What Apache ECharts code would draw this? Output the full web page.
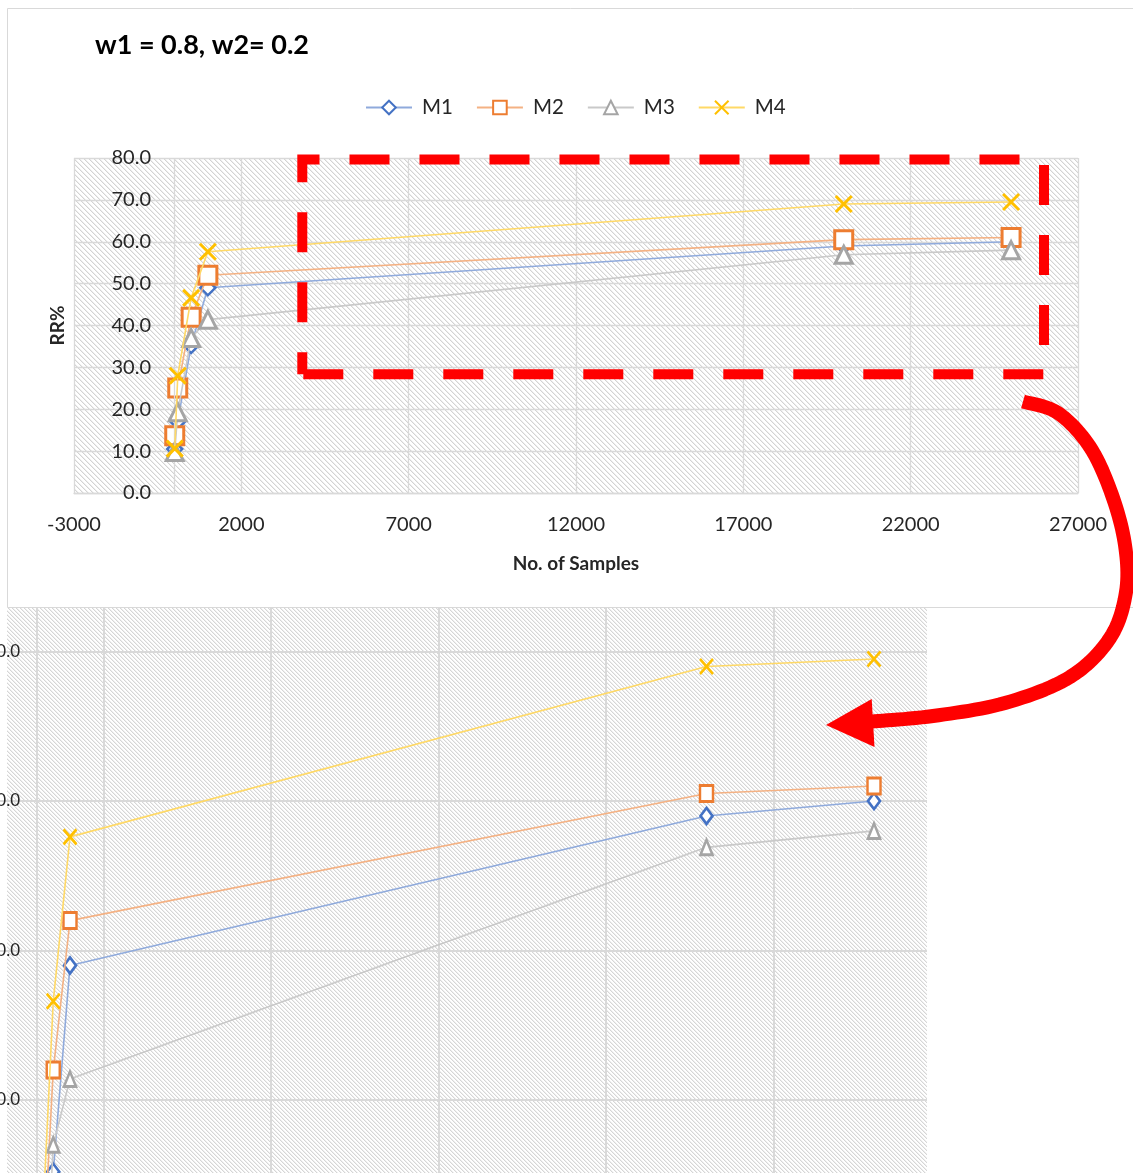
<!DOCTYPE html>
<html>
<head>
<meta charset="utf-8">
<script src="https://cdn.jsdelivr.net/npm/echarts@6/dist/echarts.min.js"></script>
<style>
  html, body { margin: 0; padding: 0; background: #fff; }
  #chart { width: 1133px; height: 1173px; }
</style>
</head>
<body>
<div id="chart"></div>
<script>
// Sample counts (x) and recognition rate RR% for each method
var samples = [10, 100, 500, 1000, 20000, 25000];
var m1 = [10.5, 17.1, 35.2, 49.0, 59.0, 60.0];
var m2 = [13.7, 25.1, 42.0, 52.0, 60.5, 61.0];
var m3 = [9.8, 19.3, 37.0, 41.4, 56.9, 58.0];
var m4 = [10.6, 28.0, 46.6, 57.6, 69.0, 69.5];
var seriesNames = ['M1', 'M2', 'M3', 'M4'];
var xTicks = { min: -3000, max: 27000, step: 5000 };
var yTicks = { min: 0, max: 80, step: 10 };

var FONT = 'Lato, "Open Sans", sans-serif';
var GRID_LINE = '#d9d9d9';

function pairs(ys) { return samples.map(function (x, i) { return [x, ys[i]]; }); }

// Diagonal hatch tile used as the plot-area fill
function hatch(period, dark, light) {
  var c = document.createElement('canvas');
  c.width = period; c.height = period;
  var ctx = c.getContext('2d');
  ctx.fillStyle = '#ffffff';
  ctx.fillRect(0, 0, period, period);
  for (var y = 0; y < period; y++) {
    for (var x = 0; x < period; x++) {
      var ph = ((x - y) % period + period) % period;
      if (ph === 0) { ctx.fillStyle = dark; ctx.fillRect(x, y, 1, 1); }
      else if (ph === 1) { ctx.fillStyle = light; ctx.fillRect(x, y, 1, 1); }
    }
  }
  return { image: c, repeat: 'repeat' };
}

var styles = [
  { sym: 'diamond', size: 15, inset: [12, 16], color: '#4472C4', line: '#8FAADC', bw: 2.5 },
  { sym: 'rect', size: 18, inset: [13, 16], color: '#ED7D31', line: '#F4B183', bw: 3 },
  { sym: 'triangle', size: 17, inset: [12, 15], color: '#A5A5A5', line: '#C9C9C9', bw: 3 },
  { sym: 'path://M0,0L10,10M0,10L10,0', size: 16, inset: [13, 15], color: '#FFC000', line: '#FFD966', bw: 3 }
];
var data = [m1, m2, m3, m4];

// vertical axis line drawn where x = 0
function zeroLine(width) {
  return {
    silent: true, symbol: 'none', animation: false,
    label: { show: false },
    lineStyle: { color: GRID_LINE, width: width, type: 'solid' },
    emphasis: { disabled: true },
    data: [{ xAxis: 0 }]
  };
}

var series = [];
seriesNames.forEach(function (name, i) {
  var s = styles[i];
  series.push({
    name: name, type: 'line', xAxisIndex: 0, yAxisIndex: 0,
    data: pairs(data[i]),
    symbol: s.sym, symbolSize: s.size, showAllSymbol: true,
    itemStyle: { color: '#ffffff', borderColor: s.color, borderWidth: s.bw },
    lineStyle: { color: s.line, width: 1.6 },
    emphasis: { disabled: true }, animation: false, z: 3 + i,
    markLine: i === 0 ? zeroLine(1.3) : undefined
  });
});
seriesNames.forEach(function (name, i) {
  var s = styles[i];
  series.push({
    name: name, type: 'line', xAxisIndex: 1, yAxisIndex: 1,
    data: pairs(data[i]),
    symbol: s.sym, symbolSize: s.inset, showAllSymbol: true,
    itemStyle: { color: '#ffffff', borderColor: s.color, borderWidth: 2.7 },
    lineStyle: { color: s.line, width: 1.6 },
    emphasis: { disabled: true }, animation: false, z: 3 + i,
    markLine: i === 0 ? zeroLine(2) : undefined
  });
});

// Centre-line of the call-out arrow, densified with Catmull-Rom interpolation
var arrowPts = [[1023, 401.5], [1058, 413], [1090, 447], [1112, 495], [1125, 545], [1126, 592],
  [1110, 638], [1070, 677], [1005, 703], [933, 716], [872, 721.5]];
function densify(p, steps) {
  var out = [p[0].slice()];
  for (var i = 0; i < p.length - 1; i++) {
    var p0 = p[i - 1] || p[i], p1 = p[i], p2 = p[i + 1], p3 = p[i + 2] || p2;
    for (var k = 1; k <= steps; k++) {
      var t = k / steps, t2 = t * t, t3 = t2 * t;
      var pt = [0, 1].map(function (d) {
        return 0.5 * ((2 * p1[d]) + (-p0[d] + p2[d]) * t +
          (2 * p0[d] - 5 * p1[d] + 4 * p2[d] - p3[d]) * t2 +
          (-p0[d] + 3 * p1[d] - 3 * p2[d] + p3[d]) * t3);
      });
      out.push(pt);
    }
  }
  return out;
}

var insetMaxX = -3000 + 991 / 0.0335;
var insetMaxY = 70 + 44 / 14.95;

var chart = echarts.init(document.getElementById('chart'), null, { renderer: 'canvas' });
chart.setOption({
  animation: false,
  backgroundColor: '#ffffff',
  textStyle: { fontFamily: FONT },
  title: {
    text: 'w1 = 0.8, w2= 0.2', left: 95, top: 32, padding: 0,
    textStyle: { fontFamily: FONT, fontWeight: 'bold', fontSize: 27, color: '#000' }
  },
  legend: {
    data: seriesNames, left: 360, top: 92, itemWidth: 46, itemHeight: 17, itemGap: 23,
    textStyle: { fontFamily: FONT, fontSize: 20.5, color: '#262626', padding: [0, 0, 0, 5] },
    selectedMode: false
  },
  grid: [
    { left: 74, top: 158, width: 1004, height: 335, show: true, borderWidth: 0,
      outerBoundsMode: 'none', containLabel: false,
      backgroundColor: hatch(5, '#d3d3d3', '#eeeeee') },
    { left: -64, top: 607.5, width: 991, height: (insetMaxY - 30) * 14.95, show: false,
      outerBoundsMode: 'none', containLabel: false }
  ],
  xAxis: [
    { type: 'value', gridIndex: 0, min: xTicks.min, max: xTicks.max, interval: xTicks.step,
      name: 'No. of Samples', nameLocation: 'middle', nameGap: 61, nameMoveOverlap: false,
      nameTextStyle: { fontFamily: FONT, fontWeight: 'bold', fontSize: 19, color: '#262626' },
      axisLine: { show: true, onZero: false, lineStyle: { color: GRID_LINE, width: 1.3 } },
      axisTick: { show: false },
      axisLabel: { margin: 22, fontFamily: FONT, fontSize: 20, color: '#262626',
        formatter: function (v) { return String(v); } },
      splitLine: { show: true, lineStyle: { color: GRID_LINE, width: 1.3 } } },
    { type: 'value', gridIndex: 1, min: xTicks.min, max: insetMaxX, interval: xTicks.step,
      axisLine: { show: false }, axisTick: { show: false }, axisLabel: { show: false },
      splitLine: { show: true, showMaxLine: false, showMinLine: false, lineStyle: { color: GRID_LINE, width: 2 } } }
  ],
  yAxis: [
    { type: 'value', gridIndex: 0, min: yTicks.min, max: yTicks.max, interval: yTicks.step,
      name: 'RR%', nameLocation: 'middle', nameGap: 7, nameRotate: 90, nameMoveOverlap: false,
      nameTextStyle: { fontFamily: FONT, fontWeight: 'bold', fontSize: 19, color: '#262626' },
      axisLine: { show: false, onZero: false },
      axisTick: { show: false },
      axisLabel: { margin: -77, fontFamily: FONT, fontSize: 20, color: '#262626',
        formatter: function (v) { return v.toFixed(1); } },
      splitLine: { show: true, lineStyle: { color: GRID_LINE, width: 1.3 } } },
    { type: 'value', gridIndex: 1, min: 30, max: insetMaxY, interval: yTicks.step,
      axisLine: { show: false, onZero: false },
      axisTick: { show: false },
      axisLabel: { margin: -84, fontFamily: FONT, fontSize: 17, color: '#262626',
        showMaxLabel: false,
        formatter: function (v) { return v.toFixed(1); } },
      splitLine: { show: true, showMaxLine: false, showMinLine: false, lineStyle: { color: GRID_LINE, width: 2 } } }
  ],
  graphic: [
    // chart frame
    { type: 'rect', z: -20, silent: true,
      shape: { x: 7.5, y: 8.5, width: 1140, height: 599 },
      style: { fill: null, stroke: '#d9d9d9', lineWidth: 1 } },
    // enlarged view background
    { type: 'rect', z: -10, silent: true,
      shape: { x: 7, y: 608, width: 920, height: 565 },
      style: { fill: hatch(4, '#d6d6d6', '#efefef') } },
    // highlighted region
    { type: 'polygon', z: 100, silent: true,
      shape: { points: [[302.3, 374.3], [302.3, 159.5], [1044, 159.5], [1044, 374.3]] },
      style: { fill: null, stroke: '#ff0000', lineWidth: 10, lineDash: [40, 30], lineDashOffset: 18, lineCap: 'butt' } },
    // call-out arrow
    { type: 'polyline', z: 100, silent: true,
      shape: { points: densify(arrowPts, 12) },
      style: { fill: null, stroke: '#ff0000', lineWidth: 14, lineCap: 'butt', lineJoin: 'round' } },
    { type: 'polygon', z: 100, silent: true,
      shape: { points: [[826, 725], [871.7, 699], [874.5, 747]] },
      style: { fill: '#ff0000' } }
  ],
  series: series
});
</script>
</body>
</html>
